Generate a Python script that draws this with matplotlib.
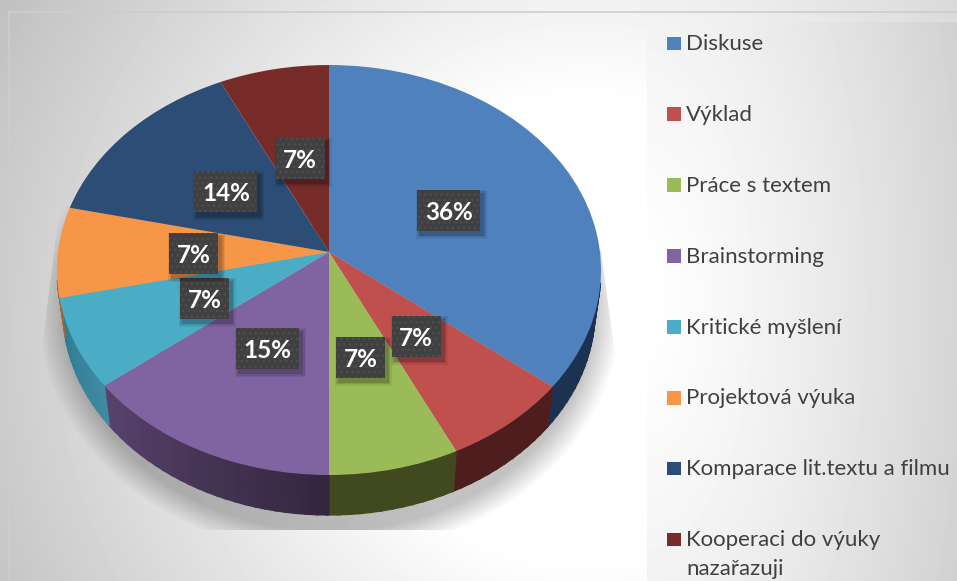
import numpy as np
import matplotlib
matplotlib.use('Agg')
import matplotlib.pyplot as plt
from matplotlib.patches import Rectangle, Polygon
from matplotlib.transforms import Transform

plt.rcParams['font.family'] = ['Lato', 'DejaVu Sans']
plt.rcParams['hatch.linewidth'] = 1.0

# Data
methods = ['Diskuse', 'Výklad', 'Práce s textem', 'Brainstorming', 'Kritické myšlení',
           'Projektová výuka', 'Komparace lit.textu a filmu', 'Kooperaci do výuky\nnazařazuji']
values = [35.7, 7.1, 7.1, 14.3, 7.1, 7.1, 14.3, 7.1]
percent_labels = ['36%', '7%', '7%', '15%', '7%', '7%', '14%', '7%']
top_colors = ['#4F81BD', '#C0504D', '#9BBB59', '#8064A2', '#4BACC6', '#F79646', '#2C4D75', '#772C2A']
side_back = ['#1B3350', '#4E1E1E', '#41491F', '#35263F', '#3F8AA1', '#A5642E', '#1D3350', '#4F1D1C']
side_front = ['#1B3350', '#4E1E1E', '#41491F', '#57426C', '#2F7B95', '#A5642E', '#1D3350', '#4F1D1C']

W, H = 957, 581

# Perspective of the pie disc, in picture pixels
CX, CY = 329.0, 252.0
RX, RY = 271.0, 203.4
K = -0.0878
DEPTH = 40.0
BOTTOM_SCALE = 0.978


def project(u, v):
    w = -v
    d = 1 + K * w
    return CX + RX * u / d, CY + RY * w / d


class Perspective(Transform):
    input_dims = 2
    output_dims = 2

    def transform_non_affine(self, values):
        x, y = project(values[:, 0], values[:, 1])
        return np.column_stack([x, y])


fig = plt.figure(figsize=(W / 100, H / 100), dpi=100, facecolor='white')
ax = fig.add_axes([0, 0, 1, 1])

# Background gradients
yy, xx = np.mgrid[0:H, 0:W]
dist = np.hypot(xx - 585, yy - 330)
back = 1 - 0.25 * np.clip((dist - 230) / 446, 0, 1.2)
ax.imshow(back, cmap='gray', vmin=0, vmax=1, extent=(0, W, H, 0), aspect='auto', zorder=0,
          clip_path=Rectangle((9, 12), W - 9, H - 12, transform=ax.transData))

py, px = np.mgrid[22:H, 647:W]
panel_dist = np.hypot(px - 640, (py - 300) * 0.45)
panel = 1 - 0.17 * np.clip(panel_dist / 325, 0, 1.1) ** 1.3
ax.imshow(panel, cmap='gray', vmin=0, vmax=1, extent=(647, W, H, 22), aspect='auto', zorder=0.1)
ax.plot([9, 9, W], [H, 12, 12], color='#CDCDCD', lw=1.2, zorder=0.2)

# Soft shadow below the pie
e = np.hypot((xx - 329) / 292, (yy - 310) / 245)
shadow = np.zeros((H, W, 4))
shadow[..., 3] = 0.24 * np.clip((1.0 - e) / 0.1, 0, 1)
im = ax.imshow(shadow, extent=(0, W, H, 0), aspect='auto', zorder=0.5)
im.set_clip_path(Polygon([(60, 205), (39, 370), (39, 530), (619, 530), (617, 370), (601, 250)],
                         transform=ax.transData))

# Side wall of the disc, only the front part shows
fractions = np.cumsum([0] + values) / sum(values)
for i, c in enumerate(top_colors):
    a0, a1 = fractions[i] * 2 * np.pi, fractions[i + 1] * 2 * np.pi
    steps = max(int((a1 - a0) / np.radians(2)), 1)
    edges = np.linspace(a0, a1, steps + 1)
    c0 = np.array(matplotlib.colors.to_rgb(side_back[i]))
    c1 = np.array(matplotlib.colors.to_rgb(side_front[i]))
    for j in range(steps):
        if np.cos(edges[j]) > -0.15 and np.cos(edges[j + 1]) > -0.15:
            continue
        t = np.linspace(edges[j], edges[j + 1] + 0.01, 4)
        x, y = project(np.sin(t), np.cos(t))
        xb = CX + (x - CX) * BOTTOM_SCALE
        yb = y + DEPTH
        col = c0 + (c1 - c0) * j / max(steps - 1, 1)
        ax.fill(np.r_[x, xb[::-1]], np.r_[y, yb[::-1]], color=col, lw=0.9, zorder=1 + i * 0.01 + j * 1e-4)

# Top face
persp = Perspective() + ax.transData
wedges, _ = ax.pie(values, colors=top_colors, startangle=90, counterclock=False, radius=1,
                   wedgeprops={'transform': persp, 'linewidth': 0, 'zorder': 2})

# Percent labels, half way out along each slice
for i, lab in enumerate(percent_labels):
    mid = (fractions[i] + fractions[i + 1]) * np.pi
    x, y = project(0.5 * np.sin(mid), 0.5 * np.cos(mid))
    y = y + 1.5
    bw = 21 + 14 * len(lab)
    bh = 41
    z = 3 + i * 0.1
    for grow, alpha in [(4, 0.07), (2.5, 0.1), (1, 0.14)]:
        ax.add_patch(Rectangle((x - bw / 2 + 3 - grow, y - bh / 2 + 4 - grow), bw + 2 * grow, bh + 2 * grow,
                               fc='black', ec='none', alpha=alpha, zorder=z))
    ax.add_patch(Rectangle((x - bw / 2, y - bh / 2), bw, bh, fc='#404040', ec='#4E4E4E',
                           hatch='...', lw=0, zorder=z + 0.01))
    ax.text(x, y + 2, lab, color='white', fontsize=17.5, fontweight='bold', ha='center', va='center',
            zorder=z + 0.02)

# Legend
for i, name in enumerate(methods):
    y = 43 + 70.9 * i
    ax.add_patch(Rectangle((667, y - 6.5), 13.5, 13.5, fc=top_colors[i], ec='none', zorder=3))
    ax.text(686, y + 1, name.split('\n')[0], color='#404040', fontsize=16, va='center', ha='left', zorder=3)
    if '\n' in name:
        ax.text(686, y + 30, name.split('\n')[1], color='#404040', fontsize=16, va='center', ha='left', zorder=3)

ax.set_aspect('auto')
ax.set_xlim(0, W)
ax.set_ylim(H, 0)
ax.axis('off')

fig.savefig('out.png', dpi=100)
